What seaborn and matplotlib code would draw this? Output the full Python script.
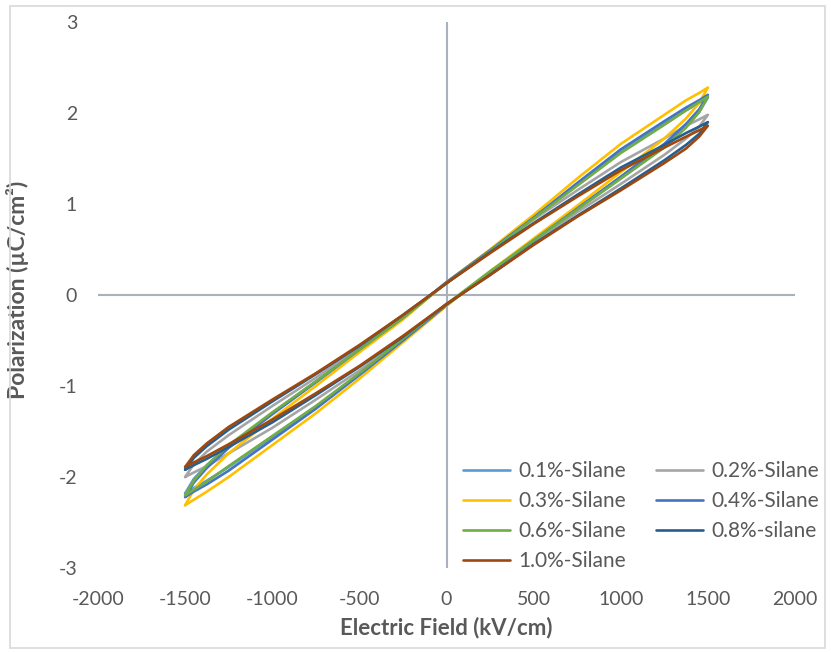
import matplotlib
matplotlib.use("Agg")
import matplotlib.pyplot as plt
import matplotlib.patches as mpatches
import numpy as np
import pandas as pd
import seaborn as sns

# ---------------- data ----------------
field = [-1500, -1450, -1375, -1250, -1000, -750, -500, -250, 0,
         250, 500, 750, 1000, 1250, 1375, 1450, 1500]

series_names = ["0.1%-Silane", "0.2%-Silane", "0.3%-Silane", "0.4%-Silane",
                "0.6%-Silane", "0.8%-silane", "1.0%-Silane"]
series_colors = ["#5B9BD5", "#A5A5A5", "#FFC000", "#4472C4", "#70AD47", "#255E91", "#9E480E"]

# lower branch (E increasing) and upper branch (E decreasing), values at the field list
lower_01 = [-2.18, -2.12, -2.04, -1.89, -1.56, -1.23, -0.87, -0.49, -0.11, 0.25, 0.59, 0.94, 1.28, 1.63, 1.85, 2.01, 2.17]
upper_01 = [-2.18, -2.02, -1.87, -1.66, -1.30, -0.95, -0.59, -0.25, 0.14, 0.49, 0.85, 1.21, 1.57, 1.88, 2.03, 2.11, 2.17]

lower_02 = [-2.00, -1.95, -1.88, -1.74, -1.46, -1.15, -0.83, -0.48, -0.10, 0.23, 0.58, 0.91, 1.22, 1.54, 1.72, 1.85, 1.98]
upper_02 = [-2.00, -1.86, -1.72, -1.54, -1.22, -0.91, -0.58, -0.23, 0.13, 0.49, 0.83, 1.15, 1.46, 1.72, 1.86, 1.93, 1.98]

lower_03 = [-2.31, -2.25, -2.16, -2.00, -1.65, -1.30, -0.92, -0.52, -0.12, 0.26, 0.62, 0.98, 1.35, 1.72, 1.94, 2.11, 2.28]
upper_03 = [-2.31, -2.14, -1.97, -1.74, -1.36, -1.00, -0.63, -0.27, 0.14, 0.50, 0.88, 1.28, 1.66, 1.98, 2.14, 2.22, 2.28]

lower_04 = [-2.22, -2.16, -2.08, -1.93, -1.59, -1.25, -0.88, -0.50, -0.11, 0.25, 0.60, 0.95, 1.30, 1.66, 1.88, 2.04, 2.20]
upper_04 = [-2.22, -2.06, -1.90, -1.68, -1.31, -0.96, -0.60, -0.25, 0.14, 0.49, 0.85, 1.23, 1.60, 1.91, 2.06, 2.14, 2.20]

lower_06 = [-2.20, -2.14, -2.05, -1.88, -1.55, -1.22, -0.86, -0.48, -0.10, 0.26, 0.60, 0.94, 1.28, 1.62, 1.84, 2.01, 2.18]
upper_06 = [-2.20, -2.04, -1.87, -1.65, -1.29, -0.95, -0.60, -0.25, 0.13, 0.48, 0.84, 1.20, 1.56, 1.87, 2.03, 2.12, 2.18]

lower_08 = [-1.92, -1.87, -1.80, -1.67, -1.40, -1.10, -0.79, -0.46, -0.10, 0.22, 0.56, 0.87, 1.17, 1.48, 1.65, 1.77, 1.90]
upper_08 = [-1.92, -1.79, -1.66, -1.48, -1.17, -0.87, -0.56, -0.22, 0.13, 0.47, 0.79, 1.10, 1.40, 1.65, 1.78, 1.85, 1.90]

lower_10 = [-1.89, -1.84, -1.77, -1.64, -1.37, -1.08, -0.78, -0.45, -0.10, 0.22, 0.55, 0.86, 1.15, 1.45, 1.61, 1.74, 1.86]
upper_10 = [-1.89, -1.76, -1.63, -1.45, -1.15, -0.86, -0.55, -0.22, 0.13, 0.46, 0.78, 1.08, 1.37, 1.62, 1.74, 1.81, 1.86]

branches = [(lower_01, upper_01), (lower_02, upper_02), (lower_03, upper_03), (lower_04, upper_04),
            (lower_06, upper_06), (lower_08, upper_08), (lower_10, upper_10)]

x_ticks = [-2000, -1500, -1000, -500, 0, 500, 1000, 1500, 2000]
y_ticks = [-3, -2, -1, 0, 1, 2, 3]

# long table: each loop = lower branch forward, then upper branch backward
rows = []
for name, (lo, up) in zip(series_names, branches):
    order = 0
    for e, p in zip(field, lo):
        rows.append((name, order, e, p)); order += 1
    for e, p in zip(field[::-1], up[::-1]):
        rows.append((name, order, e, p)); order += 1
df = pd.DataFrame(rows, columns=["series", "order", "E", "P"])

# ---------------- style ----------------
sns.set_style("white")
plt.rcParams["font.family"] = ["Lato", "DejaVu Sans"]
plt.rcParams["axes.unicode_minus"] = False
text_color = "#595959"

fig = plt.figure(figsize=(8.31, 6.53), dpi=100)
ax = fig.add_axes([98 / 831, 1 - 568 / 653, 697 / 831, 546 / 653])

sns.lineplot(data=df, x="E", y="P", hue="series", hue_order=series_names,
             palette=dict(zip(series_names, series_colors)), sort=False,
             estimator=None, units="series", linewidth=1.9, ax=ax, legend=True)

ax.set_xlim(-2000, 2000)
ax.set_ylim(-3, 3)
ax.set_xticks(x_ticks)
ax.set_yticks(y_ticks)
ax.set_xticklabels([str(v) for v in x_ticks])
ax.set_yticklabels([str(v) for v in y_ticks])
ax.tick_params(axis="both", length=0, labelsize=14, colors=text_color)
ax.tick_params(axis="x", pad=16.5)
ax.tick_params(axis="y", pad=15)
for s in ax.spines.values():
    s.set_visible(False)
ax.grid(False)
axis_col = "#A9B1BF"
ax.axhline(0, color=axis_col, lw=1.5, zorder=0)
ax.axvline(0, color=axis_col, lw=1.5, zorder=0)

ax.set_xlabel("Electric Field (kV/cm)", fontsize=16, fontweight="bold", color=text_color)
ax.set_ylabel("Polarization (\u00b5C/cm\u00b2)", fontsize=16.5, fontweight="bold", color=text_color)
ax.xaxis.set_label_coords(0.5, -0.09)
ax.yaxis.set_label_coords(-0.099, 0.51)

# legend: two columns, row-major like the reference
handles, labels = ax.get_legend_handles_labels()
hmap = dict(zip(labels, handles))
leg_order = ["0.1%-Silane", "0.3%-Silane", "0.6%-Silane", "1.0%-Silane",
             "0.2%-Silane", "0.4%-Silane", "0.8%-silane"]
ax.legend([hmap[k] for k in leg_order], leg_order, ncol=2, frameon=False,
          loc="upper left", bbox_to_anchor=(463 / 831, 1 - 461 / 653),
          bbox_transform=fig.transFigure, borderaxespad=0, borderpad=0,
          fontsize=15, handlelength=2.25, handletextpad=0.4, columnspacing=1.45,
          labelspacing=0.48, labelcolor=text_color)

fig.patches.append(mpatches.Rectangle((10 / 831, 5 / 653), 815 / 831, 642 / 653,
                                      transform=fig.transFigure, fill=False,
                                      edgecolor="#D9D9D9", lw=1.2))

fig.savefig("out.png", dpi=100)
